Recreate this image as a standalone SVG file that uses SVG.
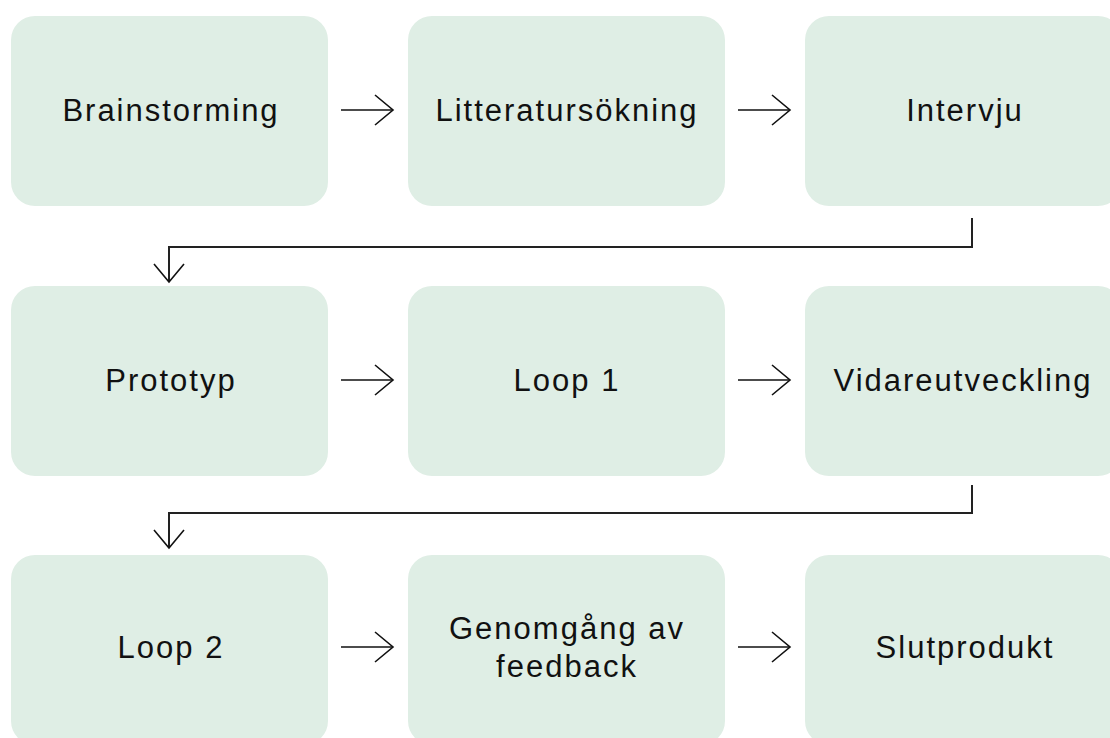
<svg xmlns="http://www.w3.org/2000/svg" width="1110" height="738" viewBox="0 0 1110 738">
<defs>
<style>
.box{fill:#dfeee5}
.lbl{font-family:"Liberation Sans",Arial,sans-serif;font-size:31px;letter-spacing:2px;fill:#111;text-anchor:middle}
.arr{fill:none;stroke:#111;stroke-width:1.6}
.conn{fill:none;stroke:#222;stroke-width:2}
</style>
<marker id="chev" markerUnits="userSpaceOnUse" markerWidth="22" markerHeight="34" viewBox="-2 -2 22 34" refX="18" refY="15" orient="auto">
<path d="M0,0 L18,15 L0,30" fill="none" stroke="#111" stroke-width="1.6"/>
</marker>
</defs>
<rect width="1110" height="738" fill="#ffffff"/>
<g id="n1"><rect class="box" x="11" y="16" width="317" height="190" rx="24"/><text class="lbl" x="171" y="121">Brainstorming</text></g>
<g id="n2"><rect class="box" x="408" y="16" width="317" height="190" rx="24"/><text class="lbl" x="567" y="121">Litteratursökning</text></g>
<g id="n3"><rect class="box" x="805" y="16" width="317" height="190" rx="24"/><text class="lbl" x="965" y="121">Intervju</text></g>
<g id="n4"><rect class="box" x="11" y="286" width="317" height="190" rx="24"/><text class="lbl" x="171" y="391">Prototyp</text></g>
<g id="n5"><rect class="box" x="408" y="286" width="317" height="190" rx="24"/><text class="lbl" x="567" y="391">Loop 1</text></g>
<g id="n6"><rect class="box" x="805" y="286" width="317" height="190" rx="24"/><text class="lbl" x="963" y="391">Vidareutveckling</text></g>
<g id="n7"><rect class="box" x="11" y="555" width="317" height="190" rx="24"/><text class="lbl" x="171" y="658">Loop 2</text></g>
<g id="n8"><rect class="box" x="408" y="555" width="317" height="190" rx="24"/><text class="lbl" x="567" y="639">Genomgång av</text><text class="lbl" x="567" y="677">feedback</text></g>
<g id="n9"><rect class="box" x="805" y="555" width="317" height="190" rx="24"/><text class="lbl" x="965" y="658">Slutprodukt</text></g>
<g id="connectors">
<path class="arr" d="M341,110 H393" marker-end="url(#chev)"/>
<path class="arr" d="M738,110 H790" marker-end="url(#chev)"/>
<path class="arr" d="M341,380 H393" marker-end="url(#chev)"/>
<path class="arr" d="M738,380 H790" marker-end="url(#chev)"/>
<path class="arr" d="M341,647 H393" marker-end="url(#chev)"/>
<path class="arr" d="M738,647 H790" marker-end="url(#chev)"/>
<path class="conn" d="M972,218 V247 H169 V282" marker-end="url(#chev)"/>
<path class="conn" d="M972,485 V513 H169 V548" marker-end="url(#chev)"/>
</g>
</svg>
